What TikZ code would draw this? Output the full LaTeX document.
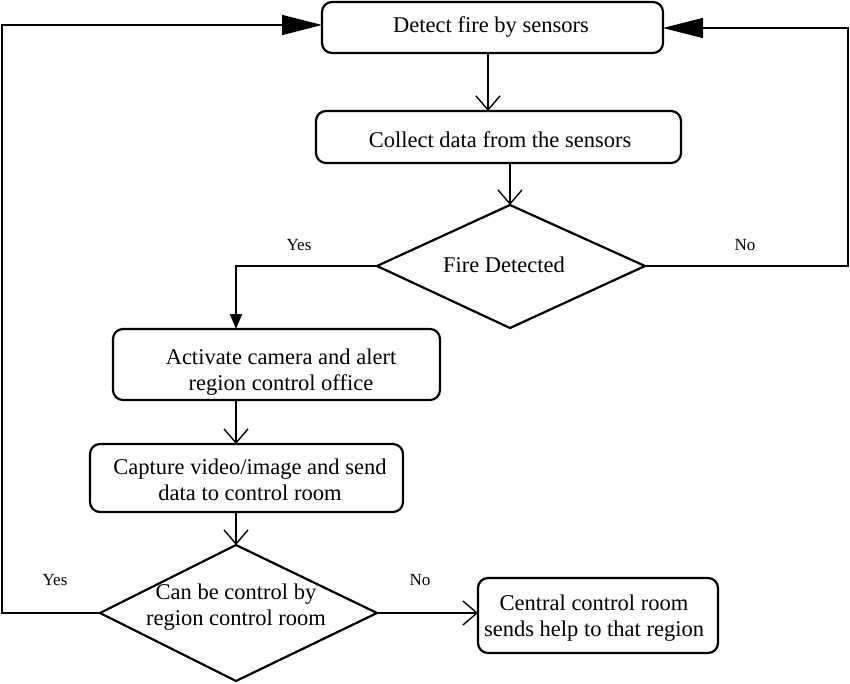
\documentclass[tikz,border=0pt]{standalone}
\usepackage{fontspec}
\setmainfont{Liberation Serif}
\usetikzlibrary{arrows.meta}
\begin{document}
\begin{tikzpicture}[x=1pt,y=-1pt,
  box/.style={draw,line width=2.2pt,rounded corners=10pt},
  txt/.style={align=center,inner sep=0pt,font=\fontsize{22.5}{26}\selectfont},
  conn/.style={line width=1.4pt},
  openarr/.style={conn,-{Straight Barb[length=14pt,width=24pt,line width=1.4pt]}},
  bigarr/.style={conn,-{Triangle[length=40pt,width=20pt]}},
  lbl/.style={font=\fontsize{17}{20}\selectfont}]
\useasboundingbox (0,0) rectangle (850,684);
\path[box] (322,2) rectangle (663,53);
\node[txt] (b1) at (491,27) {Detect fire by sensors};
\coordinate (b1t) at (488,53);
\coordinate (b1l) at (322,25);
\coordinate (b1r) at (663,28);
\path[box] (316,111) rectangle (681,163);
\node[txt] (b2) at (500,140) {Collect data from the sensors};
\coordinate (b2t) at (488,111);
\coordinate (b2b) at (510,163);
\draw[line width=2.2pt] (510,205) coordinate (d1t) -- (645,266) coordinate (d1r) -- (510,328) -- (377,266) coordinate (d1l) -- cycle;
\node[txt] (d1) at (504,265) {Fire Detected};
\path[box] (113,329) rectangle (440,400);
\node[txt] (b3) at (281,372) {Activate camera and alert\\region control office};
\coordinate (b3t) at (236,329);
\coordinate (b3b) at (236,400);
\path[box] (90,444) rectangle (403,512);
\node[txt] (b4) at (250,480) {Capture video/image and send\\data to control room};
\coordinate (b4t) at (236,444);
\coordinate (b4b) at (236,512);
\draw[line width=2.2pt] (236,545) coordinate (d2t) -- (377,613) coordinate (d2r) -- (236,681) -- (100,613) coordinate (d2l) -- cycle;
\node[txt] (d2) at (236,607) {Can be control by\\region control room};
\path[box] (478,578) rectangle (718,653);
\node[txt] (b5) at (594,618) {Central control room\\sends help to that region};
\coordinate (b5l) at (478,613);
% connectors
\draw[openarr] (b1t) -- (b2t);
\draw[openarr] (b2b) -- (d1t);
\draw[line width=2.4pt,-{Triangle[length=15pt,width=12pt]}] (d1l) -- (236,266) -- (b3t);
\draw[bigarr] (d1r) -- (848,266) -- (848,28) -- (b1r);
\draw[openarr] (b3b) -- (b4t);
\draw[openarr] (b4b) -- (d2t);
\draw[bigarr] (d2l) -- (2,613) -- (2,25) -- (b1l);
\draw[openarr] (d2r) -- (b5l);
\node[lbl] (y1) at (299,245) {Yes};
\node[lbl] (n1) at (745,245) {No};
\node[lbl] (y2) at (55,580) {Yes};
\node[lbl] (n2) at (420,580) {No};
\end{tikzpicture}
\end{document}
